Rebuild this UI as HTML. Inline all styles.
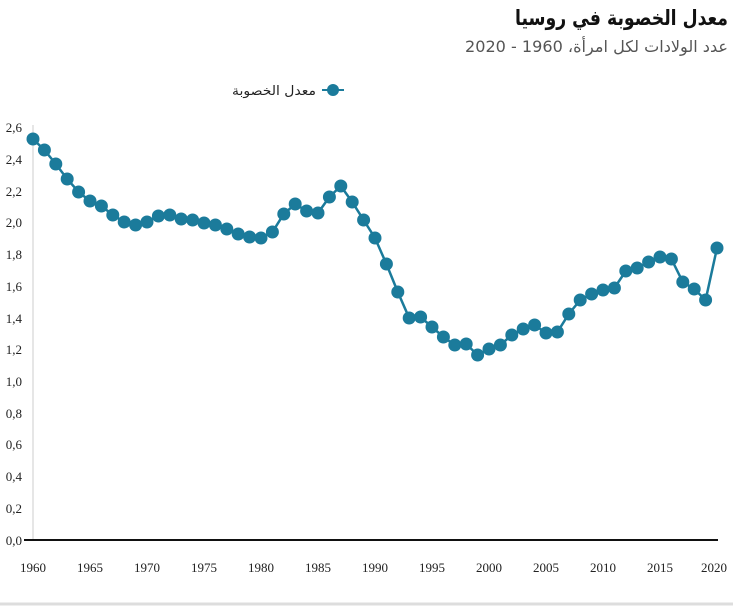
<!DOCTYPE html>
<html><head><meta charset="utf-8"><style>
body{margin:0;background:#fff;width:733px;height:606px;overflow:hidden;font-family:"Liberation Serif","Noto Sans CJK SC",serif}
</style></head><body>
<svg width="733" height="606" xmlns="http://www.w3.org/2000/svg" font-family="Liberation Serif, DejaVu Sans, serif">
<text x="728" y="25" text-anchor="end" font-size="21" font-weight="bold" fill="#111" font-family="DejaVu Sans, sans-serif" textLength="213" lengthAdjust="spacingAndGlyphs">معدل الخصوبة في روسيا</text>
<text x="728" y="52" text-anchor="end" font-size="16" fill="#555" font-family="DejaVu Sans, sans-serif" textLength="263" lengthAdjust="spacingAndGlyphs">عدد الولادات لكل امرأة، 1960 - 2020</text>
<line x1="322" y1="90" x2="344" y2="90" stroke="#1b7b9b" stroke-width="2"/>
<circle cx="333" cy="90" r="6" fill="#1b7b9b"/>
<text x="316" y="95" text-anchor="end" font-size="13" fill="#222" font-family="DejaVu Sans, sans-serif" textLength="84" lengthAdjust="spacingAndGlyphs">معدل الخصوبة</text>
<line x1="33" y1="125" x2="33" y2="540" stroke="#ccc" stroke-width="1"/>
<line x1="24" y1="540" x2="718" y2="540" stroke="#111" stroke-width="2"/>
<g font-size="13" fill="#222" text-anchor="end">
<text x="22" y="545">0,0</text><text x="22" y="513">0,2</text><text x="22" y="481">0,4</text><text x="22" y="449">0,6</text><text x="22" y="418">0,8</text><text x="22" y="386">1,0</text><text x="22" y="354">1,2</text><text x="22" y="323">1,4</text><text x="22" y="291">1,6</text><text x="22" y="259">1,8</text><text x="22" y="227">2,0</text><text x="22" y="196">2,2</text><text x="22" y="164">2,4</text><text x="22" y="132">2,6</text>
</g>
<g font-size="13" fill="#222" text-anchor="middle">
<text x="33" y="572">1960</text><text x="90" y="572">1965</text><text x="147" y="572">1970</text><text x="204" y="572">1975</text><text x="261" y="572">1980</text><text x="318" y="572">1985</text><text x="375" y="572">1990</text><text x="432" y="572">1995</text><text x="489" y="572">2000</text><text x="546" y="572">2005</text><text x="603" y="572">2010</text><text x="660" y="572">2015</text><text x="714" y="572">2020</text>
</g>
<line x1="0" y1="604" x2="733" y2="604" stroke="#ddd" stroke-width="3"/>
<g id="s"></g>
</svg>
<script>
var ys=[139,150,164,179,192,201,206,215,222,225,222,216,215,219,220,223,225,229,234,237,238,232,214,204,211,213,197,186,202,220,238,264,292,318,317,327,337,345,344,355,349,345,335,329,325,333,332,314,300,294,290,288,271,268,262,257,259,282,289,300,248];
var g=document.getElementById('s'),ns='http://www.w3.org/2000/svg',pts=[];
for(var i=0;i<ys.length;i++){pts.push((33+i*11.4).toFixed(1)+','+ys[i]);}
var pl=document.createElementNS(ns,'polyline');pl.setAttribute('points',pts.join(' '));pl.setAttribute('fill','none');pl.setAttribute('stroke','#1b7b9b');pl.setAttribute('stroke-width','2.5');g.appendChild(pl);
for(var i=0;i<ys.length;i++){var c=document.createElementNS(ns,'circle');c.setAttribute('cx',33+i*11.4);c.setAttribute('cy',ys[i]);c.setAttribute('r','6.5');c.setAttribute('fill','#1b7b9b');g.appendChild(c);}
</script>
</body></html>
